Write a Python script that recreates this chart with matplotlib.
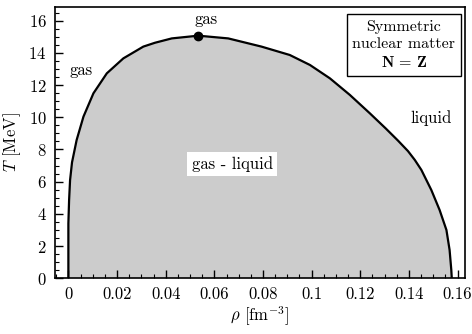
import matplotlib
matplotlib.use("Agg")
import matplotlib.pyplot as plt
from matplotlib.ticker import MultipleLocator

plt.rcParams['font.family'] = 'serif'
plt.rcParams['font.serif'] = ['cmr10', 'DejaVu Serif']
plt.rcParams['mathtext.fontset'] = 'cm'
plt.rcParams['axes.formatter.use_mathtext'] = True

# Coexistence curve (density in fm^-3, temperature in MeV)
rho = [0.0, 0.0, 0.0003, 0.0007, 0.0015, 0.0034, 0.0062, 0.0103, 0.0158,
       0.0226, 0.0308, 0.0356, 0.0425, 0.0534, 0.0657, 0.0794, 0.0910, 0.0993,
       0.1075, 0.1157, 0.1239, 0.1305, 0.1355, 0.1396, 0.1424, 0.1451, 0.1492,
       0.1526, 0.1554, 0.1567, 0.1574, 0.1576]
T = [0.0, 3.4, 4.86, 6.1, 7.2, 8.59, 10.04, 11.49, 12.73,
     13.66, 14.39, 14.63, 14.9, 15.07, 14.9, 14.39, 13.87, 13.25,
     12.42, 11.39, 10.25, 9.3, 8.55, 7.9, 7.35, 6.73, 5.48,
     4.24, 3.0, 1.76, 0.52, 0.0]
rho_crit = [0.0534]
T_crit = [15.07]

x_ticks = [0, 0.02, 0.04, 0.06, 0.08, 0.1, 0.12, 0.14, 0.16]
x_labels = ['0', '0.02', '0.04', '0.06', '0.08', '0.1', '0.12', '0.14', '0.16']
y_ticks = [0, 2, 4, 6, 8, 10, 12, 14, 16]

fig = plt.figure(figsize=(4.72, 3.34), dpi=100)
ax = fig.add_axes([0.1165, 0.1668, 0.985 - 0.1165, 0.979 - 0.1668])

ax.fill(rho, T, color='#cccccc', lw=0, zorder=1)
ax.plot(rho, T, color='black', lw=1.6, solid_joinstyle='round', zorder=3)
ax.plot(rho_crit, T_crit, 'o', color='black', ms=6, zorder=4)

ax.set_xlim(-0.0055, 0.163)
ax.set_ylim(0, 16.85)
ax.set_xticks(x_ticks)
ax.set_xticklabels(x_labels)
ax.set_yticks(y_ticks)
ax.xaxis.set_minor_locator(MultipleLocator(0.005))
ax.yaxis.set_minor_locator(MultipleLocator(0.5))
ax.tick_params(which='major', direction='in', length=6, width=1.0, labelsize=12, pad=6)
ax.tick_params(which='minor', direction='in', length=3, width=0.8)
ax.tick_params(top=False, right=False, which='both')
for s in ax.spines.values():
    s.set_linewidth(1.2)

ax.set_xlabel(r'$\rho$ [fm$^{\mathrm{-3}}$]', fontsize=12, labelpad=2)
ax.set_ylabel(r'$T$ [MeV]', fontsize=12, labelpad=4)

fs = 12
ax.text(0.0052, 12.9, 'gas', fontsize=fs, ha='center', va='center')
ax.text(0.0568, 16.1, 'gas', fontsize=fs, ha='center', va='center')
ax.text(0.149, 9.96, 'liquid', fontsize=fs, ha='center', va='center')
ax.text(0.0673, 7.1, 'gas - liquid', fontsize=fs, ha='center', va='center',
        bbox=dict(facecolor='white', edgecolor='none', pad=3))
ax.text(0.1378, 14.5, 'Symmetric\nnuclear matter\n' + r'$\mathbf{N}\,=\,\mathbf{Z}$',
        fontsize=11.5, ha='center', va='center', linespacing=1.35,
        bbox=dict(facecolor='white', edgecolor='black', lw=1.0, pad=4))

fig.savefig('out.png', dpi=100)
